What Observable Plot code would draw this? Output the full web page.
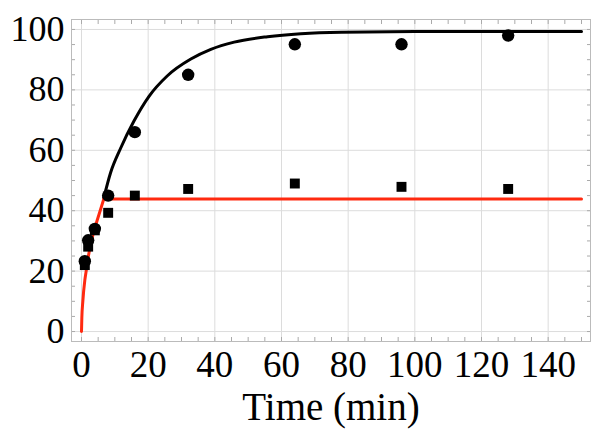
<!DOCTYPE html>
<html><head><meta charset="utf-8">
<script src="https://cdn.jsdelivr.net/npm/d3@7"></script>
<script src="https://cdn.jsdelivr.net/npm/@observablehq/plot@0.6"></script>
<style>body{margin:0;background:#fff}</style>
</head><body><div id="chart"></div>
<script>
// Measured data points
const times = [1, 2, 4, 8, 16, 32, 64, 96, 128];
const circleValues = [23.3, 30.2, 34.0, 45.0, 66.0, 85.0, 95.1, 95.1, 98.0];
const squareValues = [22.0, 28.1, 33.5, 39.3, 45.0, 47.2, 49.0, 47.9, 47.2];
// Fitted curves
const blackCurveT = [6.7, 8.7, 11.7, 15.7, 20.2, 25.7, 32.8, 38.8, 45.8, 55.8, 65.8, 78, 100, 125, 150];
const blackCurveV = [44.3, 52.5, 60.6, 69.6, 77.8, 84.6, 90.2, 93.4, 95.8, 97.6, 98.6, 99.1, 99.3, 99.3, 99.3];
const redRiseT = [0, 0.1, 0.4, 1, 1.4, 2, 2.7, 3.5, 4.9, 6.7];
const redRiseV = [0, 4.5, 10, 17, 20, 24.5, 28.5, 32.3, 37.5, 43.9];
const redFlatT = [6.7, 150];
const redFlatV = [43.9, 43.9];
// Ticks
const xTicks = [0, 20, 40, 60, 80, 100, 120, 140];
const yTicks = [0, 20, 40, 60, 80, 100];
const xMinor = [0,5,10,15,20,25,30,35,40,45,50,55,60,65,70,75,80,85,90,95,100,105,110,115,120,125,130,135,140,145,150];
const yMinor = [0,5,10,15,20,25,30,35,40,45,50,55,60,65,70,75,80,85,90,95,100];
const xLabel = "Time (min)";

const circles = times.map((t, i) => ({t, v: circleValues[i]}));
const squares = times.map((t, i) => ({t, v: squareValues[i]}));
const black = blackCurveT.map((t, i) => ({t, v: blackCurveV[i]}));
const redRise = redRiseT.map((t, i) => ({t, v: redRiseV[i]}));
const redFlat = redFlatT.map((t, i) => ({t, v: redFlatV[i]}));

const chart = Plot.plot({
  width: 602, height: 438,
  marginLeft: 71, marginRight: 12, marginTop: 19, marginBottom: 97,
  x: {domain: [-3, 152.7]},
  y: {domain: [-3.3, 103.3]},
  style: {fontFamily: "'Liberation Serif', 'Times New Roman', serif", fontSize: "36px", color: "#000", background: "#fff"},
  marks: [
    Plot.gridX(xTicks, {stroke: "#dcdcdc", strokeOpacity: 1}),
    Plot.gridY(yTicks, {stroke: "#dcdcdc", strokeOpacity: 1}),
    Plot.axisX(xMinor, {anchor: "bottom", tickSize: -4, fill: "none", stroke: "#aaa", label: null}),
    Plot.axisX(xMinor, {anchor: "top", tickSize: -4, fill: "none", stroke: "#aaa", label: null}),
    Plot.axisY(yMinor, {anchor: "left", tickSize: -4, fill: "none", stroke: "#aaa", label: null}),
    Plot.axisY(yMinor, {anchor: "right", tickSize: -4, fill: "none", stroke: "#aaa", label: null}),
    Plot.axisX(xTicks, {anchor: "bottom", tickSize: 0, tickPadding: 9, label: null, fontSize: 37}),
    Plot.axisY(yTicks, {anchor: "left", tickSize: 0, tickPadding: 7, label: null, fontSize: 36}),
    Plot.frame({stroke: "#bbb"}),
    Plot.line(black, {x: "t", y: "v", stroke: "#000", strokeWidth: 3, curve: "monotone-x"}),
    Plot.line(redRise, {x: "t", y: "v", stroke: "#ff2a10", strokeWidth: 3, curve: "monotone-x"}),
    Plot.line(redFlat, {x: "t", y: "v", stroke: "#ff2a10", strokeWidth: 3}),
    Plot.dot(circles, {x: "t", y: "v", r: 6.2, fill: "#000", stroke: null, symbol: "circle"}),
    Plot.dot(squares, {x: "t", y: "v", r: 5.6, fill: "#000", stroke: null, symbol: "square"}),
    Plot.text([xLabel], {frameAnchor: "bottom", dy: 78, fontSize: 39, fill: "#000"})
  ]
});
document.getElementById("chart").appendChild(chart);
</script>
</body></html>
